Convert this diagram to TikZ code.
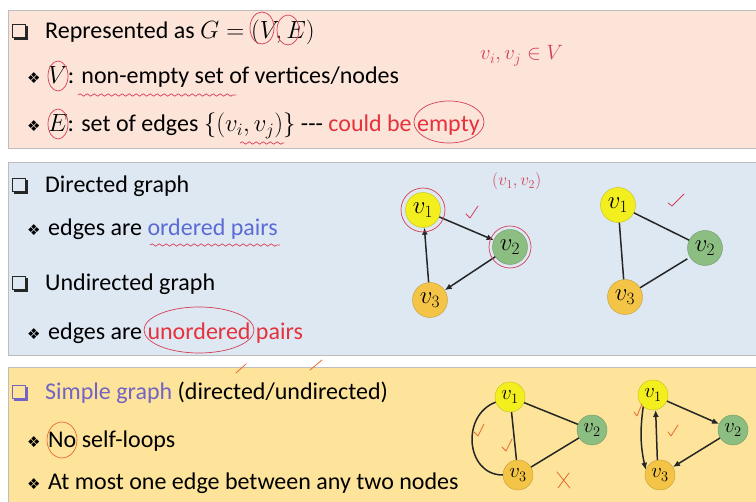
\documentclass[tikz,border=0pt]{standalone}
\usepackage{fontspec}
\setmainfont{Carlito}
\newfontfamily\symfont{DejaVu Sans}
\usetikzlibrary{positioning, arrows.meta, decorations.pathmorphing, shadows}
\definecolor{panelpink}{HTML}{FCE4D9}
\definecolor{panelblue}{HTML}{DDE8F3}
\definecolor{panelyellow}{HTML}{FDE49A}
\definecolor{panelline}{HTML}{BDBDBD}
\definecolor{textred}{HTML}{E5323C}
\definecolor{textblue}{HTML}{5B6BD6}
\definecolor{textpurple}{HTML}{7264C4}
\definecolor{inkred}{HTML}{D63E55}
\definecolor{inkorange}{HTML}{E66A32}
\definecolor{vyellow}{HTML}{F3EF1E}
\definecolor{vgreen}{HTML}{8CBE82}
\definecolor{vorange}{HTML}{F4C447}

\begin{document}
\begin{tikzpicture}[
  x=1pt, y=-1pt,
  font=\fontsize{24}{28}\selectfont,
  panel/.style={draw=panelline, line width=0.8pt},
  txt/.style={anchor=base west, inner sep=0pt},
  chkbox/.style={draw=#1, line width=1.1pt, minimum size=13.5pt, inner sep=0pt,
    drop shadow={shadow xshift=1.8pt, shadow yshift=-1.8pt, fill=#1, opacity=1}},
  diamark/.style={anchor=base west, inner sep=0pt, font=\symfont\fontsize{15}{16}\selectfont},
  vtx/.style={circle, draw=#1!80!black, fill=#1, minimum size=35pt, inner sep=0pt,
    font=\fontsize{24}{24}\selectfont},
  svtx/.style={circle, draw=#1!80!black, fill=#1, minimum size=30pt, inner sep=0pt,
    font=\fontsize{20}{20}\selectfont},
  edge/.style={line width=1.5pt, draw=black!85},
  arc/.style={edge, -{Latex[length=7pt,width=6pt]}},
  ink/.style={draw=inkred, line width=0.7pt},
  squiggle/.style={ink, decorate, decoration={snake, amplitude=1.2pt, segment length=7pt}},
  tick/.style={draw=#1, line width=0.8pt, line cap=round, line join=round},
]
\useasboundingbox (0,0) rectangle (756,502);
\fill[white] (0,0) rectangle (756,502);

% ---- panels ----
\filldraw[panel, fill=panelpink] (8,10) rectangle (770,148);
\filldraw[panel, fill=panelblue] (8,162) rectangle (770,355);
\filldraw[panel, fill=panelyellow] (8,367) rectangle (770,520);

% ---- definition ----
\node[chkbox=black!85, fill=panelpink] (b1) at (19,31) {};
\node[txt] (rep) at (45,39) {Represented as $G=(V,E)$};
\node[diamark] (d1) at (27,84) {❖};
\node[txt] (vset) at (48,84) {$V$: non-empty set of vertices/nodes};
\node[diamark] (d2) at (27,132) {❖};
\node[txt] (eset) at (48,132) {$E$: set of edges $\{(v_i,v_j)\}$ -{}-{}- \textcolor{textred}{could be empty}};
\node[txt, text=inkred, font=\fontsize{22}{22}\selectfont] (memb) at (480,60) {$v_i, v_j\in V$};

% ---- directed / undirected ----
\node[chkbox=black!85, fill=panelblue] (b2) at (19,185) {};
\node[txt] (dirg) at (45,193) {Directed graph};
\node[diamark] (d3) at (27,236) {❖};
\node[txt] (ordp) at (48,236) {edges are \textcolor{textblue}{ordered pairs}};
\node[chkbox=black!85, fill=panelblue] (b3) at (19,283) {};
\node[txt] (undg) at (45,291) {Undirected graph};
\node[diamark] (d4) at (27,340) {❖};
\node[txt] (unop) at (48,340) {edges are \textcolor{textred}{unordered pairs}};

\node[vtx=vyellow] (a1) at (423,210) {$v_1$};
\node[vtx=vgreen] (a2) at (510,247) {$v_2$};
\node[vtx=vorange] (a3) at (430,300) {$v_3$};
\draw[arc] (a1) -- (a2);
\draw[arc] (a2) -- (a3);
\draw[arc] (a3) -- (a1);
\node[txt, text=inkred, font=\fontsize{18}{18}\selectfont] (pair) at (492,186) {$(v_1, v_2)$};

\node[vtx=vyellow] (u1) at (618,205) {$v_1$};
\node[vtx=vgreen] (u2) at (705,248) {$v_2$};
\node[vtx=vorange] (u3) at (625,297) {$v_3$};
\draw[edge] (u1) -- (u2);
\draw[edge] (u1) -- (u3);
\draw[edge, shorten >=3pt] (u3) -- (u2);

% ---- simple graph ----
\node[chkbox=textpurple, fill=panelyellow] (b4) at (19,392) {};
\node[txt] (simp) at (45,400) {\textcolor{textpurple}{Simple graph} (directed/undirected)};
\node[diamark] (d5) at (27,448) {❖};
\node[txt] (noloop) at (48,448) {No self-loops};
\node[diamark] (d6) at (27,490) {❖};
\node[txt] (atmost) at (48,490) {At most one edge between any two nodes};

\node[svtx=vyellow] (s1) at (510,397) {$v_1$};
\node[svtx=vgreen] (s2) at (592,430) {$v_2$};
\node[svtx=vorange] (s3) at (518,475) {$v_3$};
\draw[edge] (s1) -- (s2);
\draw[edge] (s1) -- (s3);
\draw[edge] (s1.200) to[out=200, in=180, looseness=1.3] (s3.180);
\draw[edge] (s3) -- (s2);

\node[svtx=vyellow] (m1) at (653,395) {$v_1$};
\node[svtx=vgreen] (m2) at (733,430) {$v_2$};
\node[svtx=vorange] (m3) at (660,475) {$v_3$};
\draw[arc] (m1) -- (m2);
\draw[arc] (m2) -- (m3);
\draw[arc] (m3.100) -- (m1.280);
\draw[arc] (m1.230) to[bend right=10] (m3.160);

% ---- hand notes ----
\draw[ink] (262,28) ellipse (12 and 16);
\draw[ink] (288,30) ellipse (11 and 15);
\draw[ink] (58,76) ellipse (10 and 15);
\draw[ink] (58,124) ellipse (10 and 15);
\draw[squiggle] (78,95) -- (236,95);
\draw[squiggle] (240,143) -- (284,143);
\draw[ink] (449,122) ellipse (35 and 21);
\draw[squiggle] (150,245) -- (280,245);
\draw[ink] (199,330) ellipse (55 and 23);
\draw[ink] (423,210) circle (22);
\draw[ink] (510,247) circle (21);
\draw[tick=inkred] (466,214) -- (470,218) -- (478,206);
\draw[tick=inkred] (668,203) -- (672,206) -- (684,194);
\draw[ink, draw=inkorange] (62,440) ellipse (15 and 18);
\draw[tick=inkorange] (236,373) -- (246,364);
\draw[tick=inkorange] (310,370) -- (322,360);
\draw[tick=inkorange] (474,432) -- (478,436) -- (484,424);
\draw[tick=inkorange] (502,447) -- (506,451) -- (512,439);
\draw[tick=inkorange] (557,472) -- (570,488) (558,488) -- (569,473);
\draw[tick=inkorange] (634,412) -- (637,416) -- (642,404);
\draw[tick=inkorange] (668,432) -- (671,436) -- (678,425);
\end{tikzpicture}
\end{document}
